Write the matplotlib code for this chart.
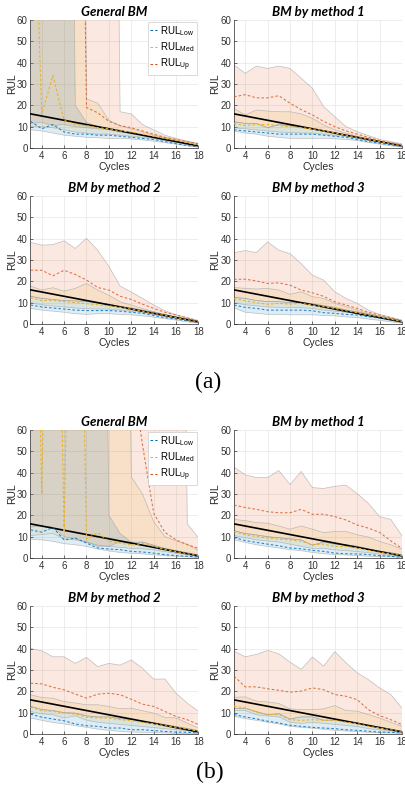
import matplotlib.pyplot as plt
from matplotlib.lines import Line2D

# shared x axis and the reference (true) RUL line
cycles = [3, 4, 5, 6, 7, 8, 9, 10, 11, 12, 13, 14, 15, 16, 17, 18]
true_rul = [16, 15, 14, 13, 12, 11, 10, 9, 8, 7, 6, 5, 4, 3, 2, 1]

# ---- (a) General BM  (values > 60 run off the top of the axes)
a1_low_lo = [8.5, 8.0, 7.0, 6.0, 5.5, 5.0, 4.8, 4.5, 4.5, 4.2, 3.8, 3.2, 2.5, 1.8, 1.0, 0.4]
a1_low_mid = [12.5, 9.0, 11.0, 7.5, 6.5, 6.5, 6.0, 6.0, 5.5, 5.0, 4.5, 4.0, 3.0, 2.0, 1.2, 0.5]
a1_low_hi = [500, 500, 500, 500, 20.0, 12.0, 10.0, 9.0, 8.0, 7.0, 6.0, 5.0, 4.0, 3.0, 2.0, 1.2]
a1_med_lo = [10.0, 10.0, 9.5, 8.5, 7.5, 7.0, 6.5, 6.5, 6.0, 5.5, 5.0, 4.5, 3.5, 2.5, 1.8, 1.0]
a1_med_mid = [180, 16.0, 34.0, 13.0, 11.0, 10.5, 9.5, 9.0, 8.0, 7.5, 6.5, 5.5, 4.5, 3.5, 2.5, 1.3]
a1_med_hi = [500, 500, 500, 500, 500, 23.0, 21.0, 13.0, 10.5, 9.0, 7.5, 6.0, 5.0, 3.8, 2.8, 1.8]
a1_up_lo = [11.5, 12.0, 10.5, 11.0, 10.0, 9.5, 9.0, 8.5, 7.5, 6.8, 6.0, 5.0, 4.0, 3.0, 2.0, 1.2]
a1_up_mid = [400, 400, 400, 400, 400, 19.0, 16.5, 12.5, 10.5, 9.5, 8.0, 6.5, 5.0, 4.0, 3.0, 2.0]
a1_up_hi = [500, 500, 500, 500, 500, 500, 500, 500, 17.0, 16.0, 11.0, 8.5, 6.0, 4.5, 3.2, 2.2]

# ---- (a) BM by method 1
a2_low_lo = [8.0, 7.0, 6.5, 5.5, 5.0, 4.5, 4.5, 4.5, 4.5, 4.3, 4.0, 3.5, 2.6, 1.8, 1.0, 0.4]
a2_low_mid = [8.5, 8.0, 7.5, 7.0, 6.5, 6.5, 6.5, 6.5, 6.0, 5.5, 5.0, 4.0, 3.0, 2.2, 1.5, 0.7]
a2_low_hi = [12.3, 11.5, 11.5, 9.5, 11.0, 10.5, 9.5, 9.0, 8.0, 7.0, 6.0, 5.0, 4.0, 3.0, 2.0, 1.1]
a2_med_lo = [9.5, 9.0, 8.5, 8.0, 7.5, 7.3, 7.0, 7.0, 6.5, 6.0, 5.5, 4.5, 3.5, 2.6, 1.7, 0.9]
a2_med_mid = [11.5, 10.5, 11.0, 11.0, 10.5, 10.0, 9.5, 9.0, 8.0, 7.0, 6.0, 5.0, 4.0, 3.0, 2.0, 1.0]
a2_med_hi = [18.6, 15.5, 17.8, 17.3, 17.0, 17.0, 16.0, 13.9, 10.8, 8.5, 7.0, 5.5, 4.5, 3.0, 2.2, 1.2]
a2_up_mid = [24.0, 25.0, 23.5, 23.5, 24.5, 21.0, 18.0, 15.5, 12.5, 10.0, 8.0, 6.5, 5.0, 3.5, 2.5, 1.5]
a2_up_hi = [38.9, 35.0, 38.4, 37.3, 38.4, 37.3, 32.7, 28.0, 19.4, 14.7, 10.0, 7.7, 5.8, 4.0, 3.0, 2.0]

# ---- (a) BM by method 2
a3_low_lo = [7.3, 6.5, 6.0, 5.5, 4.8, 4.5, 4.8, 4.8, 4.5, 4.3, 3.8, 3.2, 2.5, 1.8, 1.0, 0.4]
a3_low_mid = [8.9, 8.0, 7.5, 7.0, 6.5, 6.3, 6.3, 6.3, 6.0, 5.5, 5.0, 4.0, 3.0, 2.3, 1.5, 0.7]
a3_low_hi = [13.0, 12.0, 11.5, 11.0, 10.8, 10.5, 10.0, 9.2, 8.3, 7.5, 6.5, 5.5, 4.4, 3.3, 2.2, 1.2]
a3_med_lo = [10.0, 9.0, 8.5, 8.0, 7.5, 7.2, 7.0, 7.0, 6.6, 6.0, 5.5, 4.5, 3.5, 2.6, 1.7, 0.9]
a3_med_mid = [12.3, 11.0, 11.0, 10.5, 10.0, 9.5, 9.0, 8.5, 7.8, 7.0, 6.0, 5.0, 4.0, 3.0, 2.0, 1.0]
a3_med_hi = [17.8, 15.9, 17.0, 15.4, 16.7, 19.0, 15.9, 13.5, 10.4, 8.9, 7.3, 5.8, 4.5, 3.4, 2.3, 1.1]
a3_up_mid = [25.2, 25.2, 22.6, 25.2, 23.2, 20.6, 17.1, 15.9, 13.0, 11.5, 9.3, 7.3, 5.5, 4.2, 2.8, 1.5]
a3_up_hi = [38.3, 37.0, 37.2, 39.0, 35.4, 40.2, 34.6, 27.0, 17.8, 15.0, 12.0, 8.9, 6.2, 4.4, 3.0, 1.6]

# ---- (a) BM by method 3
a4_low_lo = [7.5, 5.5, 5.0, 4.5, 4.5, 4.3, 4.3, 4.3, 4.0, 3.8, 3.3, 3.0, 2.3, 1.7, 1.0, 0.4]
a4_low_mid = [8.9, 7.8, 7.3, 6.5, 6.5, 6.5, 6.5, 6.2, 5.3, 5.0, 4.5, 4.2, 3.4, 2.8, 2.2, 1.1]
a4_low_hi = [12.5, 12.0, 11.0, 10.5, 10.5, 10.0, 10.2, 9.5, 8.6, 7.8, 6.6, 5.7, 4.6, 3.6, 2.5, 1.3]
a4_med_lo = [10.0, 9.0, 8.5, 8.0, 7.8, 7.7, 7.6, 7.3, 6.5, 6.0, 5.5, 5.0, 4.0, 3.2, 2.5, 1.3]
a4_med_mid = [12.0, 10.9, 10.0, 9.2, 9.7, 9.3, 9.7, 8.9, 8.1, 7.3, 6.2, 5.3, 4.2, 3.4, 2.3, 1.1]
a4_med_hi = [17.1, 16.7, 16.4, 16.7, 15.9, 13.9, 15.1, 12.8, 12.0, 9.7, 8.1, 6.5, 5.0, 3.7, 2.6, 1.4]
a4_up_mid = [20.9, 21.0, 20.2, 19.0, 19.3, 18.2, 15.9, 14.6, 13.0, 10.4, 8.9, 7.3, 5.5, 4.2, 3.0, 1.5]
a4_up_hi = [33.5, 34.4, 33.5, 38.5, 34.6, 33.0, 28.3, 22.9, 20.6, 15.1, 12.0, 9.7, 6.5, 4.5, 3.1, 1.9]

# ---- (b) General BM
b1_low_lo = [8.8, 8.5, 7.8, 6.7, 6.2, 5.4, 4.2, 3.3, 2.6, 2.2, 1.9, 1.5, 1.1, 0.8, 0.5, 0.3]
b1_low_mid = [13.2, 12.1, 14.3, 8.5, 9.3, 7.0, 4.7, 4.2, 3.9, 3.1, 2.8, 2.3, 1.6, 1.1, 0.8, 0.5]
b1_low_hi = [500, 500, 500, 500, 500, 500, 500, 20.0, 11.5, 7.5, 7.5, 6.0, 4.5, 3.5, 2.5, 1.5]
b1_med_lo = [10.5, 11.0, 11.5, 9.0, 8.5, 7.5, 6.0, 5.5, 5.0, 4.5, 4.3, 3.8, 3.0, 2.2, 1.5, 0.8]
b1_med_mid = [300, 30.0, 300, 12.0, 300, 9.0, 11.8, 7.8, 7.0, 6.0, 6.8, 5.5, 4.0, 3.0, 2.0, 1.0]
b1_med_hi = [500, 500, 500, 500, 500, 500, 500, 500, 500, 38.0, 30.0, 17.0, 10.0, 8.0, 6.5, 3.5]
b1_up_lo = [14.5, 15.0, 14.5, 10.0, 9.0, 7.5, 5.5, 5.5, 7.5, 6.5, 7.5, 6.0, 4.5, 3.3, 2.2, 1.2]
b1_up_mid = [300, 300, 300, 300, 300, 300, 300, 300, 300, 90.0, 53.0, 21.0, 12.0, 8.5, 6.2, 4.5]
b1_up_hi = [500, 500, 500, 500, 500, 500, 500, 500, 500, 500, 500, 500, 500, 500, 16.0, 9.5]

# ---- (b) BM by method 1
b2_low_lo = [8.5, 7.3, 6.2, 5.4, 4.7, 3.9, 3.4, 2.6, 2.0, 1.6, 1.4, 1.1, 0.8, 0.6, 0.5, 0.3]
b2_low_mid = [9.6, 8.2, 7.3, 6.5, 5.7, 4.7, 4.3, 3.6, 3.1, 2.3, 2.0, 1.9, 1.6, 1.1, 0.8, 0.3]
b2_low_hi = [12.8, 11.5, 10.8, 10.0, 9.5, 9.0, 8.5, 6.0, 7.5, 6.5, 6.2, 5.5, 4.3, 3.2, 2.5, 1.5]
b2_med_lo = [10.5, 9.5, 8.5, 8.0, 7.5, 6.5, 5.5, 4.5, 4.5, 3.8, 3.5, 3.0, 2.5, 1.8, 1.2, 0.7]
b2_med_mid = [12.4, 10.9, 10.1, 9.3, 8.8, 8.5, 7.8, 6.2, 6.5, 5.4, 5.4, 4.7, 3.6, 2.6, 2.0, 1.1]
b2_med_hi = [18.1, 17.5, 16.6, 16.3, 15.0, 13.5, 15.0, 13.5, 11.9, 12.4, 12.4, 10.9, 9.8, 7.8, 6.2, 4.2]
b2_up_mid = [24.8, 23.7, 22.8, 21.7, 21.2, 21.2, 22.8, 20.5, 20.5, 19.4, 17.8, 15.5, 14.0, 12.0, 8.0, 4.5]
b2_up_hi = [42.6, 39.0, 37.7, 37.7, 41.0, 34.4, 40.6, 33.0, 32.6, 33.6, 34.1, 30.2, 25.6, 19.4, 18.1, 10.4]

# ---- (b) BM by method 2
b3_low_lo = [7.5, 6.4, 5.4, 4.7, 3.9, 3.1, 2.3, 1.7, 1.2, 0.9, 0.8, 0.6, 0.5, 0.3, 0.3, 0.2]
b3_low_mid = [9.3, 7.9, 7.0, 6.2, 4.7, 3.9, 3.6, 2.8, 2.8, 2.0, 2.0, 1.6, 1.2, 0.9, 0.8, 0.5]
b3_low_hi = [13.0, 11.5, 11.0, 10.0, 9.8, 8.5, 8.0, 8.0, 7.2, 6.8, 6.0, 5.3, 4.4, 3.5, 2.6, 1.5]
b3_med_lo = [10.5, 9.5, 9.0, 7.5, 8.5, 6.5, 5.5, 5.0, 4.5, 4.0, 3.5, 3.0, 2.5, 2.0, 1.5, 0.8]
b3_med_mid = [12.6, 10.9, 10.6, 9.8, 9.3, 7.9, 7.5, 7.5, 6.7, 6.2, 5.4, 4.8, 3.9, 3.1, 2.3, 1.2]
b3_med_hi = [18.4, 17.1, 16.8, 15.2, 14.5, 13.7, 13.7, 12.9, 11.8, 12.1, 10.9, 9.8, 7.8, 7.5, 5.1, 2.8]
b3_up_mid = [23.8, 23.5, 21.9, 20.7, 18.7, 16.8, 18.7, 19.1, 18.4, 16.3, 14.0, 12.9, 10.6, 8.2, 6.7, 4.4]
b3_up_hi = [40.1, 39.0, 36.2, 36.2, 33.1, 35.9, 31.6, 33.1, 32.3, 34.7, 30.8, 25.7, 25.8, 19.1, 14.5, 10.6]

# ---- (b) BM by method 3
b4_low_lo = [8.3, 7.2, 6.4, 5.5, 4.7, 3.6, 3.1, 2.7, 2.2, 1.7, 1.4, 1.1, 0.8, 0.6, 0.5, 0.3]
b4_low_mid = [9.1, 8.0, 7.1, 6.0, 5.2, 4.1, 3.6, 3.1, 2.8, 2.5, 2.0, 1.7, 1.3, 0.9, 0.8, 0.5]
b4_low_hi = [12.0, 12.0, 10.5, 9.0, 9.5, 7.0, 8.0, 8.0, 6.5, 6.5, 6.0, 5.3, 4.0, 3.2, 2.3, 1.2]
b4_med_lo = [11.0, 11.0, 9.0, 8.5, 8.0, 5.5, 5.0, 5.5, 5.0, 4.5, 4.0, 3.5, 2.5, 2.0, 1.5, 0.8]
b4_med_mid = [13.0, 12.2, 10.2, 9.1, 9.1, 6.7, 6.4, 6.7, 6.4, 6.4, 5.5, 4.9, 3.6, 2.8, 2.0, 0.9]
b4_med_hi = [17.2, 17.4, 15.4, 15.0, 14.3, 11.8, 11.4, 11.4, 11.8, 13.3, 11.0, 10.7, 9.1, 7.5, 5.5, 3.6]
b4_up_mid = [27.1, 22.1, 22.1, 21.2, 20.5, 19.6, 20.1, 21.6, 20.8, 18.5, 17.7, 16.1, 11.4, 8.6, 6.7, 4.4]
b4_up_hi = [38.9, 36.2, 37.3, 39.2, 37.6, 33.7, 30.3, 36.1, 31.8, 38.6, 33.4, 28.7, 25.5, 21.6, 18.5, 12.2]

titles = ['General BM', 'BM by method 1', 'BM by method 2', 'BM by method 3']

# MATLAB default colour order
c_low = '#0072BD'
c_med = '#EDB120'
c_up = '#D95319'

plt.rcParams['font.family'] = ['Liberation Sans', 'DejaVu Sans']
plt.rcParams['mathtext.default'] = 'regular'

# (lo, mid, hi) per quantile, with the upper band's lower edge given separately
panels = [
    ((a1_low_lo, a1_low_mid, a1_low_hi), (a1_med_lo, a1_med_mid, a1_med_hi), (a1_up_lo, a1_up_mid, a1_up_hi)),
    ((a2_low_lo, a2_low_mid, a2_low_hi), (a2_med_lo, a2_med_mid, a2_med_hi), (a2_low_hi, a2_up_mid, a2_up_hi)),
    ((a3_low_lo, a3_low_mid, a3_low_hi), (a3_med_lo, a3_med_mid, a3_med_hi), (a3_low_hi, a3_up_mid, a3_up_hi)),
    ((a4_low_lo, a4_low_mid, a4_low_hi), (a4_med_lo, a4_med_mid, a4_med_hi), (a4_low_hi, a4_up_mid, a4_up_hi)),
    ((b1_low_lo, b1_low_mid, b1_low_hi), (b1_med_lo, b1_med_mid, b1_med_hi), (b1_up_lo, b1_up_mid, b1_up_hi)),
    ((b2_low_lo, b2_low_mid, b2_low_hi), (b2_med_lo, b2_med_mid, b2_med_hi), (b2_low_hi, b2_up_mid, b2_up_hi)),
    ((b3_low_lo, b3_low_mid, b3_low_hi), (b3_med_lo, b3_med_mid, b3_med_hi), (b3_low_hi, b3_up_mid, b3_up_hi)),
    ((b4_low_lo, b4_low_mid, b4_low_hi), (b4_med_lo, b4_med_mid, b4_med_hi), (b4_low_hi, b4_up_mid, b4_up_hi)),
]

W, H = 406, 789
fig = plt.figure(figsize=(W / 100, H / 100), dpi=100)

col_left = [30.5, 234]
row_bottom = [148, 324, 558, 734]   # pixel row of y=0 for each row
ax_w, ax_h = 168, 128
dash = (0, (2.5, 2))

for i, (low, med, up) in enumerate(panels):
    row, col = i // 2, i % 2
    ax = fig.add_axes([col_left[col] / W, 1 - row_bottom[row] / H, ax_w / W, ax_h / H])

    for (lo, mid, hi), c in [(up, c_up), (med, c_med), (low, c_low)]:
        ax.fill_between(cycles, lo, hi, facecolor=c, alpha=0.13, edgecolor='none', zorder=1)
        ax.plot(cycles, lo, color='#9a9a9a', lw=0.5, alpha=0.6, zorder=2)
        ax.plot(cycles, hi, color='#9a9a9a', lw=0.5, alpha=0.6, zorder=2)

    ax.plot(cycles, true_rul, color='black', lw=1.2, zorder=4)
    ax.plot(cycles, low[1], color=c_low, lw=0.75, ls=dash, alpha=0.85, zorder=5)
    ax.plot(cycles, med[1], color=c_med, lw=0.75, ls=dash, zorder=5)
    ax.plot(cycles, up[1], color=c_up, lw=0.75, ls=dash, alpha=0.8, zorder=5)

    ax.set_xlim(3, 18)
    ax.set_ylim(0, 60)
    ax.set_xticks([4, 6, 8, 10, 12, 14, 16, 18])
    ax.set_yticks([0, 10, 20, 30, 40, 50, 60])
    ax.grid(True, color='#e6e6e6', lw=0.5)
    ax.set_axisbelow(True)
    ax.tick_params(direction='in', length=2.5, width=0.5, labelsize=7, colors='#333333', pad=2)
    for s in ['top', 'right']:
        ax.spines[s].set_visible(False)
    for s in ['left', 'bottom']:
        ax.spines[s].set_color('#262626')
        ax.spines[s].set_linewidth(0.5)
    ax.set_xlabel('Cycles', fontsize=7.5, labelpad=1, color='#262626')
    ax.set_ylabel('RUL', fontsize=7.5, labelpad=0, color='#262626')
    ax.set_title(titles[i % 4], fontsize=9.5, fontweight='bold', style='italic',
                 family='Lato', pad=3)

    if i % 4 == 0:
        handles = [Line2D([], [], color=c_low, lw=0.75, ls=dash),
                   Line2D([], [], color=c_med, lw=0.75, ls=dash),
                   Line2D([], [], color=c_up, lw=0.75, ls=dash)]
        leg = ax.legend(handles, ['RUL$_{Low}$', 'RUL$_{Med}$', 'RUL$_{Up}$'],
                        loc='upper right', fontsize=7, handlelength=0.8,
                        handletextpad=0.3, borderpad=0.2, labelspacing=0.25,
                        borderaxespad=0.2, fancybox=False, framealpha=1)
        leg.get_frame().set_edgecolor('#cccccc')
        leg.get_frame().set_linewidth(0.5)

fig.text(208 / W, 1 - 382 / H, '(a)', family='Liberation Serif', fontsize=17,
         ha='center', va='center')
fig.text(210 / W, 1 - 772 / H, '(b)', family='Liberation Serif', fontsize=17,
         ha='center', va='center')

fig.savefig('out.png', dpi=100)
